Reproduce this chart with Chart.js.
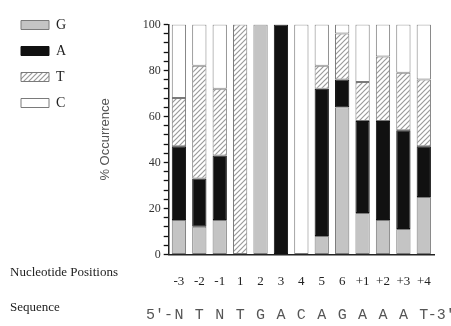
<!DOCTYPE html>
<html>
<head>
<meta charset="utf-8">
<script src="https://cdn.jsdelivr.net/npm/chart.js@4"></script>
<style>
  html, body { margin: 0; padding: 0; background: #fff; }
  #wrap { width: 451px; height: 326px; }
</style>
</head>
<body>
<div id="wrap"><canvas id="chart"></canvas></div>
<script>
// nucleotide positions and the consensus base written under each one
const positions = ["-3", "-2", "-1", "1", "2", "3", "4", "5", "6", "+1", "+2", "+3", "+4"];
const sequence = ["N", "T", "N", "T", "G", "A", "C", "A", "G", "A", "A", "A", "T"];

// % occurrence of each base at each position
const G = [15, 12, 15, 0, 100, 0, 0, 8, 64, 18, 15, 11, 25];
const A = [32, 21, 28, 0, 0, 100, 0, 64, 12, 40, 43, 43, 22];
const T = [21, 49, 29, 100, 0, 0, 0, 10, 20, 17, 28, 25, 29];
const C = [32, 18, 28, 0, 0, 0, 100, 18, 4, 25, 14, 21, 24];

const yMax = 100;
const yMajor = 20;
const yMinor = 4;

function hatch() {
  const c = document.createElement("canvas");
  c.width = 5;
  c.height = 5;
  const g = c.getContext("2d");
  g.fillStyle = "#fff";
  g.fillRect(0, 0, 5, 5);
  g.strokeStyle = "#9a9a9a";
  g.lineWidth = 1.2;
  g.beginPath();
  g.moveTo(-1, 6); g.lineTo(6, -1);
  g.moveTo(-1, 1); g.lineTo(1, -1);
  g.moveTo(4, 6); g.lineTo(6, 4);
  g.stroke();
  return g.createPattern(c, "repeat");
}

// zero values would leave a stray outline, so skip them
const nz = (arr) => arr.map((v) => (v === 0 ? null : v));

const bottomText = {
  id: "bottomText",
  afterDraw(chart) {
    const ctx = chart.ctx;
    const x = chart.scales.x;
    ctx.save();
    ctx.fillStyle = "#222";
    ctx.textBaseline = "middle";
    ctx.font = '13px "Liberation Serif"';
    ctx.fillText("Nucleotide Positions", 10, 273);
    ctx.fillText("Sequence", 10, 308);
    ctx.fillStyle = "#555";
    ctx.font = '15px "Liberation Mono"';
    ctx.textAlign = "center";
    sequence.forEach((s, i) => ctx.fillText(s, x.getPixelForValue(i), 315));
    ctx.textAlign = "right";
    ctx.fillText("5\u2032-", x.getPixelForValue(0) - 6, 315);
    ctx.textAlign = "left";
    ctx.fillText("-3\u2032", x.getPixelForValue(sequence.length - 1) + 4, 315);
    ctx.restore();
  },
};

const ctx = document.getElementById("chart");
new Chart(ctx, {
  type: "bar",
  data: {
    labels: positions,
    datasets: [
      { label: "G", data: nz(G), backgroundColor: "#c4c4c4", borderColor: "#7a7a7a" },
      { label: "A", data: nz(A), backgroundColor: "#111", borderColor: "#111" },
      { label: "T", data: nz(T), backgroundColor: hatch(), borderColor: "#7a7a7a" },
      { label: "C", data: nz(C), backgroundColor: "#fff", borderColor: "#7a7a7a" },
    ],
  },
  options: {
    responsive: true,
    maintainAspectRatio: false,
    animation: false,
    datasets: {
      bar: { borderWidth: 1, barPercentage: 0.7, categoryPercentage: 1, borderSkipped: false },
    },
    layout: { padding: { top: 6, right: 17, bottom: 18, left: 9 } },
    plugins: {
      title: { display: true, text: "", fullSize: false, padding: { top: 0, bottom: 4 } },
      tooltip: { enabled: false },
      legend: {
        position: "left",
        align: "start",
        labels: {
          boxWidth: 28,
          boxHeight: 9,
          padding: 12,
          color: "#222",
          font: { family: "Liberation Serif", size: 14 },
        },
      },
    },
    scales: {
      x: {
        stacked: true,
        grid: { display: true, drawOnChartArea: false, drawTicks: false },
        border: { display: true, color: "#222", width: 1.5 },
        ticks: {
          color: "#222",
          padding: 19,
          font: { family: "Liberation Serif", size: 13 },
        },
      },
      y: {
        stacked: true,
        min: 0,
        max: yMax,
        grid: {
          display: true,
          drawOnChartArea: false,
          drawTicks: true,
          color: "#111",
          lineWidth: 1,
          tickLength: 5,
          tickColor: "#111",
          tickWidth: 1.3,
        },
        border: { display: true, color: "#222", width: 1.5 },
        ticks: {
          stepSize: yMinor,
          maxTicksLimit: 30,
          autoSkip: false,
          padding: 3,
          color: "#333",
          font: { family: "Liberation Serif", size: 12 },
          callback: (v) => (v % yMajor === 0 ? String(v) : " "),
        },
        title: {
          display: true,
          text: "% Occurrence",
          color: "#555",
          font: { family: "Liberation Sans", size: 13 },
          padding: { top: 22, bottom: 26 },
        },
      },
    },
  },
  plugins: [bottomText],
});
</script>
</body>
</html>
